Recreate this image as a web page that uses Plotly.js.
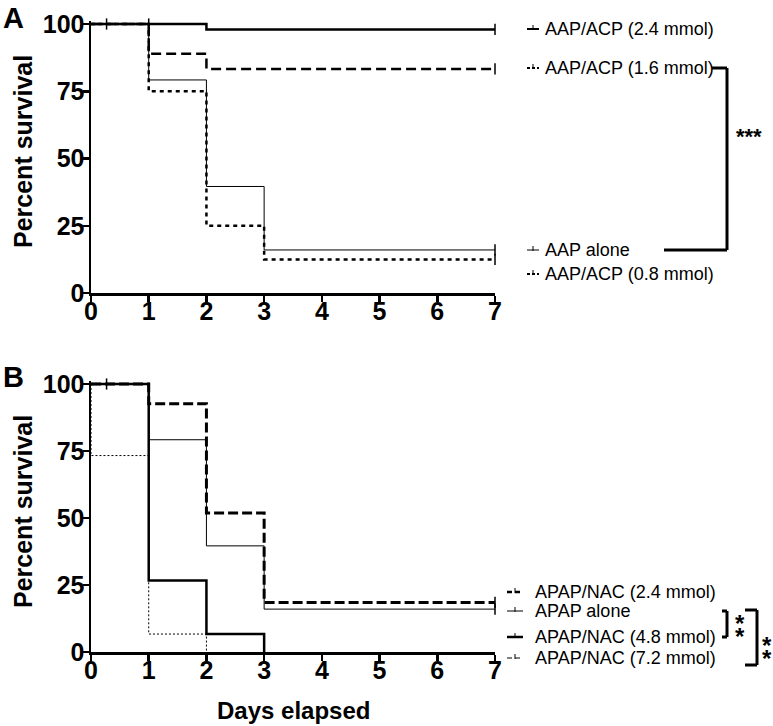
<!DOCTYPE html>
<html>
<head>
<meta charset="utf-8">
<script src="https://cdn.plot.ly/plotly-3.0.1.min.js"></script>
<style>html,body{margin:0;padding:0;background:#fff}#chart{width:773px;height:726px}</style>
</head>
<body>
<div id="chart"></div>
<script>
// ---------- data ----------
const days = [0, 1, 2, 3, 7];
// Panel A
const aap24    = [100, 100, 98, 98, 98];
const aap16    = [100, 88.9, 83.3, 83.3, 83.3];
const aapAlone = [100, 79.2, 39.6, 16, 16];
const aap08    = [100, 75, 25, 12.5, 12.5];
// Panel B
const nac24     = [100, 92.6, 51.9, 18.5, 18.5];
const apapAlone = [100, 79.2, 39.6, 16, 16];
const daysNac48 = [0, 1, 2, 3];
const nac48     = [100, 26.7, 6.7, 0];
const daysNac72 = [0, 0, 1, 2];
const nac72     = [100, 73.3, 6.7, 0];
// censored observations
const censorAx = [0.27, 1, 7, 7, 7, 7];
const censorAy = [100, 100, 98, 83.3, 16, 12.5];
const censorBx = [0.27, 7, 7];
const censorBy = [100, 18.5, 16];

const labelsA = ['AAP/ACP (2.4 mmol)', 'AAP/ACP (1.6 mmol)', 'AAP alone', 'AAP/ACP (0.8 mmol)'];
const labelsB = ['APAP/NAC (2.4 mmol)', 'APAP alone', 'APAP/NAC (4.8 mmol)', 'APAP/NAC (7.2 mmol)'];
const yTicks = [0, 25, 50, 75, 100];
const xTicks = [0, 1, 2, 3, 4, 5, 6, 7];

// ---------- helpers ----------
const W = 773, H = 726;
const P = x => x / W;
const Q = y => 1 - y / H;
const FONT = 'Liberation Sans, Arial, Helvetica, sans-serif';

const styleA = [
  {width: 2.5, dash: 'solid'},
  {width: 2.5, dash: '10px,5px'},
  {width: 1, dash: 'solid'},
  {width: 2.5, dash: '4px,4px'}
];
const styleB = [
  {width: 3, dash: '10px,4px'},
  {width: 1, dash: 'solid'},
  {width: 2.5, dash: 'solid'},
  {width: 1, dash: '2px,2px'}
];

function step(x, y, st, xa, ya) {
  return {x: x, y: y, xaxis: xa, yaxis: ya, type: 'scatter', mode: 'lines',
    line: {shape: 'hv', color: '#000', width: st.width, dash: st.dash},
    showlegend: false, hoverinfo: 'skip'};
}
function censor(x, y, xa, ya) {
  return {x: x, y: y, xaxis: xa, yaxis: ya, type: 'scatter', mode: 'markers', cliponaxis: false,
    marker: {symbol: 'line-ns-open', size: 8, color: '#000', line: {color: '#000', width: 1.5}},
    showlegend: false, hoverinfo: 'skip'};
}

const traces = [
  step(days, aap24, styleA[0], 'x', 'y'),
  step(days, aap16, styleA[1], 'x', 'y'),
  step(days, aapAlone, styleA[2], 'x', 'y'),
  step(days, aap08, styleA[3], 'x', 'y'),
  step(days, nac24, styleB[0], 'x2', 'y2'),
  step(days, apapAlone, styleB[1], 'x2', 'y2'),
  step(daysNac48, nac48, styleB[2], 'x2', 'y2'),
  step(daysNac72, nac72, styleB[3], 'x2', 'y2'),
  censor(censorAx, censorAy, 'x', 'y'),
  censor(censorBx, censorBy, 'x2', 'y2')
];

function xAxis(anchor) {
  return {anchor: anchor, domain: [P(91), P(495)], range: [0, 7], tickvals: xTicks,
    showline: true, linecolor: '#000', linewidth: 2.5, ticks: 'outside', ticklen: 6, tickwidth: 2.5, tickcolor: '#000',
    ticklabelstandoff: -12,
    showgrid: false, zeroline: false, fixedrange: true,
    tickfont: {family: FONT, size: 25, color: '#000', weight: 'bold'}};
}
function yAxis(anchor, top, bottom) {
  return {anchor: anchor, domain: [Q(bottom), Q(top - (bottom - top) * 0.01)], range: [0, 101], tickvals: yTicks,
    showline: true, linecolor: '#000', linewidth: 2.5, ticks: 'outside', ticklen: 6, tickwidth: 2.5, tickcolor: '#000',
    ticklabelstandoff: -7,
    showgrid: false, zeroline: false, fixedrange: true,
    tickfont: {family: FONT, size: 25, color: '#000', weight: 'bold'}};
}

const annotations = [];
const shapes = [];
function txt(x, y, text, size, bold, anchor, angle) {
  annotations.push({xref: 'paper', yref: 'paper', x: P(x), y: Q(y), text: text, showarrow: false,
    xanchor: anchor || 'center', yanchor: 'middle', textangle: angle || 0,
    font: {family: FONT, size: size, color: '#000', weight: bold ? 'bold' : 'normal'}});
}
function seg(x0, y0, x1, y1, w, dash) {
  shapes.push({type: 'line', xref: 'paper', yref: 'paper', x0: P(x0), y0: Q(y0), x1: P(x1), y1: Q(y1),
    line: {color: '#000', width: w, dash: dash || 'solid'}});
}
const STAR = '<span style="font-size:24px">*</span>';
const STARS2 = STAR + '<br>' + STAR;

// panel letters & titles
txt(14, 18, 'A', 29, true);
txt(14, 377, 'B', 29, true);
txt(23, 152, 'Percent survival', 25, true, 'center', -90);
txt(23, 512, 'Percent survival', 25, true, 'center', -90);
txt(293, 710, 'Days elapsed', 24, true);

// legend A
const legAy = [29, 68, 250, 274];
labelsA.forEach((t, i) => {
  txt(543, legAy[i], t, 18, false, 'left');
  seg(527, legAy[i], 539, legAy[i], Math.min(styleA[i].width, 2), styleA[i].dash === 'solid' ? 'solid' : '3px,2px');
  seg(533, legAy[i] - 4, 533, legAy[i] + 1, 1);
});
// bracket A
seg(712, 68, 727, 68, 3);
seg(727, 68, 727, 250, 3);
seg(664, 250, 727, 250, 3);
txt(749, 136, '***', 22, true);

// legend B
const legBy = [592, 611, 637, 658];
labelsB.forEach((t, i) => {
  txt(533, legBy[i], t, 18, false, 'left');
  seg(507, legBy[i], 523, legBy[i], Math.min(styleB[i].width, 2.5), styleB[i].dash === 'solid' ? 'solid' : '5px,3px');
  seg(515, legBy[i] - 4, 515, legBy[i] + 1, 1);
});
// brackets B
seg(722, 611, 727, 611, 3);
seg(727, 611, 727, 637, 3);
seg(722, 637, 727, 637, 3);
txt(740, 630, STARS2, 10, true);
seg(745, 610, 757, 610, 3);
seg(757, 610, 757, 665, 3);
seg(745, 665, 757, 665, 3);
txt(767, 652, STARS2, 10, true);

const layout = {
  width: W, height: H, margin: {l: 0, r: 0, t: 0, b: 0},
  paper_bgcolor: '#fff', plot_bgcolor: '#fff', showlegend: false,
  xaxis: xAxis('y'), yaxis: yAxis('x', 24, 293),
  xaxis2: xAxis('y2'), yaxis2: yAxis('x2', 384, 652),
  annotations: annotations, shapes: shapes
};

Plotly.newPlot('chart', traces, layout, {staticPlot: true, displayModeBar: false});
</script>
</body>
</html>
